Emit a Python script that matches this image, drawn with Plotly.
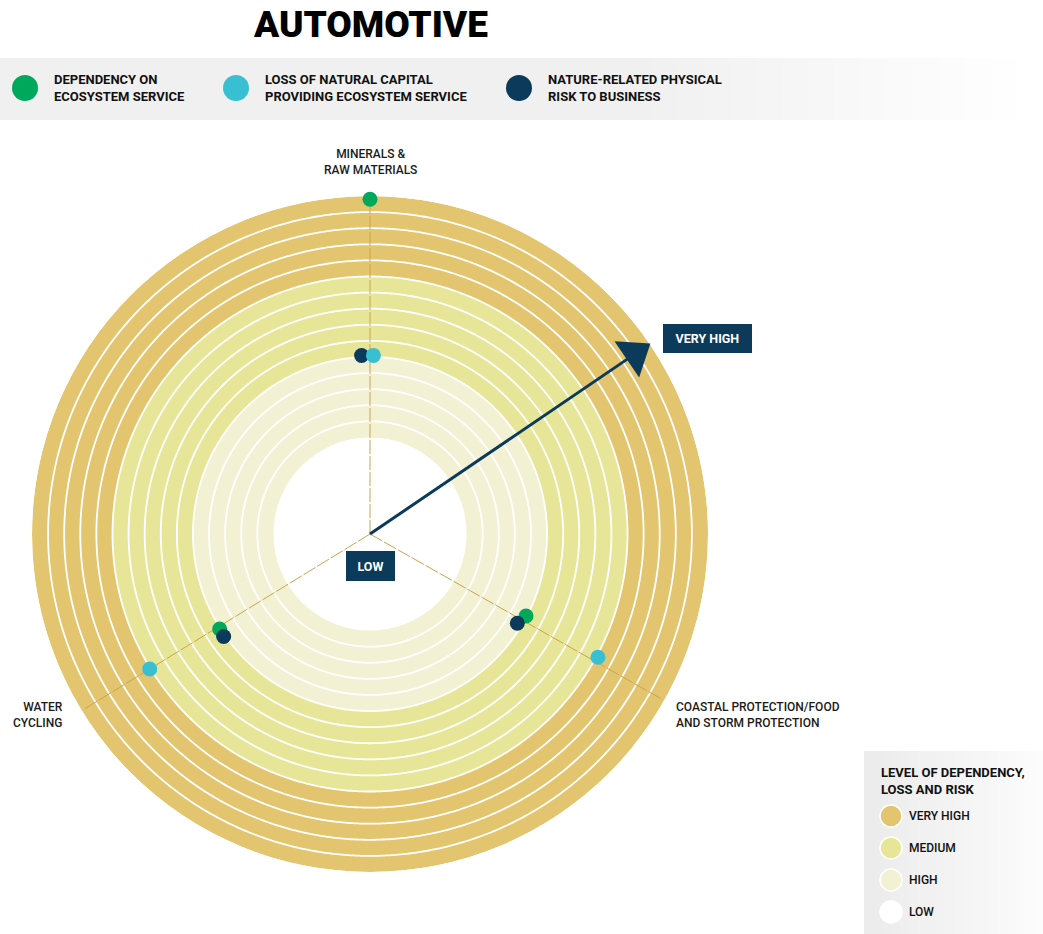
import numpy as np
import plotly.graph_objects as go

W, H = 1043, 934

# ring structure (radial units, 1 unit per ring)
CORE_RADIUS = 6
RING_LEVELS = ["HIGH"] * 5 + ["MEDIUM"] * 5 + ["VERY HIGH"] * 5
LEVEL_COLORS = {"VERY HIGH": "#e3c56f", "MEDIUM": "#e7e698", "HIGH": "#f3f1d3", "LOW": "#ffffff"}
LEGEND_LEVELS = ["VERY HIGH", "MEDIUM", "HIGH", "LOW"]

# categories (spokes)
CATEGORIES = ["MINERALS &<br>RAW MATERIALS", "COASTAL PROTECTION/FOOD<br>AND STORM PROTECTION", "WATER<br>CYCLING"]
CATEGORY_ANGLES = [90, 330.5, 211.5]

# series values (radius, angle)
DEPENDENCY_R = [20.8, 10.95, 11.05]
DEPENDENCY_T = [90, 332.3, 212.3]
LOSS_R = [11.1, 16.1, 16.05]
LOSS_T = [88.9, 331.6, 211.5]
RISK_R = [11.1, 10.7, 11.1]
RISK_T = [92.7, 328.8, 215.0]

SERIES = [
    ("DEPENDENCY ON<br>ECOSYSTEM SERVICE", "#00a85c", DEPENDENCY_R, DEPENDENCY_T),
    ("NATURE-RELATED PHYSICAL<br>RISK TO BUSINESS", "#0b3a5b", RISK_R, RISK_T),
    ("LOSS OF NATURAL CAPITAL<br>PROVIDING ECOSYSTEM SERVICE", "#38c0d2", LOSS_R, LOSS_T),
]
TOP_LEGEND_ORDER = [0, 2, 1]

ARROW_ANGLE = 34.2
NAVY = "#0b3a5b"
FONT = "Roboto"


def px(x):
    return x / W


def py(y):
    return 1 - y / H


def label(x, y, text, size=12, weight=500, color="#1a1a1a", xanchor="center", align="center", **kw):
    return dict(x=px(x), y=py(y), xref="paper", yref="paper", text=text, showarrow=False,
                xanchor=xanchor, yanchor="middle", align=align,
                font=dict(size=size, color=color, weight=weight), **kw)


# polar placement: centre (370, 534), radius 338 px
CX, CY, R = 370, 534, 338
R_MAX = CORE_RADIUS + len(RING_LEVELS)

fig = go.Figure()

fig.add_trace(go.Barpolar(
    r=[1] * len(RING_LEVELS),
    base=[CORE_RADIUS + i for i in range(len(RING_LEVELS))],
    theta=[0] * len(RING_LEVELS),
    width=[360] * len(RING_LEVELS),
    marker=dict(color=[LEVEL_COLORS[l] for l in RING_LEVELS], line=dict(width=0)),
    hoverinfo="skip", showlegend=False,
))

circle_t = np.linspace(0, 360, 721)
for i in range(1, len(RING_LEVELS)):
    fig.add_trace(go.Scatterpolar(
        r=[CORE_RADIUS + i] * len(circle_t), theta=circle_t, mode="lines",
        line=dict(color="white", width=1.8), hoverinfo="skip", showlegend=False,
    ))

for ang in CATEGORY_ANGLES:
    fig.add_trace(go.Scatterpolar(
        r=[0, R_MAX - 0.1], theta=[ang, ang], mode="lines",
        line=dict(color="#cda34c", width=1, dash="14px,2px"), hoverinfo="skip", showlegend=False,
    ))

for name, color, rr, tt in SERIES:
    fig.add_trace(go.Scatterpolar(
        r=rr, theta=tt, mode="markers", name=name.replace("<br>", " "),
        marker=dict(color=color, size=15), showlegend=False,
    ))

# arrow from LOW to VERY HIGH
tip_back = 18 / (R / R_MAX)
fig.add_trace(go.Scatterpolar(
    r=[0, R_MAX - tip_back], theta=[ARROW_ANGLE, ARROW_ANGLE], mode="lines+markers",
    line=dict(color=NAVY, width=3),
    marker=dict(color=NAVY, size=[10, 38], symbol=["circle", "triangle-up"], angleref="previous",
                opacity=1, line=dict(width=0)),
    hoverinfo="skip", showlegend=False,
))

fig.update_layout(
    width=W, height=H, margin=dict(l=0, r=0, t=0, b=0),
    paper_bgcolor="white", plot_bgcolor="white",
    font=dict(family=FONT, color="#1a1a1a"),
    polar=dict(
        domain=dict(x=[px(CX - R), px(CX + R)], y=[py(CY + R), py(CY - R)]),
        bgcolor="rgba(0,0,0,0)",
        radialaxis=dict(range=[0, R_MAX], visible=False, showgrid=False),
        angularaxis=dict(visible=False, showgrid=False, direction="counterclockwise", rotation=0),
    ),
)

shapes = []
annotations = []

# title
annotations.append(label(CX, 25, "AUTOMOTIVE", size=37, weight=900, color="black"))

# top legend band with fade to the right
n = 40
for i in range(n):
    x0 = i * W / n
    frac = i / (n - 1)
    g = 240 if frac < 0.6 else int(240 + (255 - 240) * (frac - 0.6) / 0.4)
    shapes.append(dict(type="rect", xref="paper", yref="paper", x0=px(x0), x1=px(x0 + W / n + 1),
                       y0=py(120), y1=py(58), fillcolor=f"rgb({g},{g},{g})", line=dict(width=0), layer="below"))

leg_x = [25, 236, 519]
for k, idx in enumerate(TOP_LEGEND_ORDER):
    name, color, _, _ = SERIES[idx]
    cx = leg_x[k]
    shapes.append(dict(type="circle", xref="paper", yref="paper", x0=px(cx - 13), x1=px(cx + 13),
                       y0=py(101), y1=py(75), fillcolor=color, line=dict(width=0)))
    annotations.append(label(cx + 27, 88, name, size=13, weight=700, color="#111",
                             xanchor="left", align="left"))

# category labels
annotations.append(label(CX, 162, CATEGORIES[0]))
annotations.append(label(674, 715, CATEGORIES[1], xanchor="left", align="left"))
annotations.append(label(65, 715, CATEGORIES[2], xanchor="right", align="right"))

# level tags
annotations.append(label(707, 338, "VERY HIGH", size=12.5, weight=700, color="white",
                         bgcolor=NAVY, bordercolor=NAVY, borderpad=6, width=75, height=15))
annotations.append(label(370, 566, "LOW", size=12.5, weight=700, color="white",
                         bgcolor=NAVY, bordercolor=NAVY, borderpad=6, width=35, height=16))

# level legend box (bottom right)
n = 20
bx0, bx1 = 864, W
for i in range(n):
    x0 = bx0 + i * (bx1 - bx0) / n
    frac = i / (n - 1)
    g = int(236 + (252 - 236) * frac)
    shapes.append(dict(type="rect", xref="paper", yref="paper", x0=px(x0), x1=px(x0 + (bx1 - bx0) / n + 1),
                       y0=py(934), y1=py(751), fillcolor=f"rgb({g},{g},{g})", line=dict(width=0), layer="below"))
annotations.append(label(879, 781, "LEVEL OF DEPENDENCY,<br>LOSS AND RISK", size=13, weight=700,
                         color="#111", xanchor="left", align="left"))
for k, lvl in enumerate(LEGEND_LEVELS):
    yy = 816 + 32 * k
    shapes.append(dict(type="circle", xref="paper", yref="paper", x0=px(880), x1=px(902),
                       y0=py(yy + 11), y1=py(yy - 11), fillcolor=LEVEL_COLORS[lvl],
                       line=dict(color="white", width=1.5)))
    annotations.append(label(907, yy, lvl, color="#111", xanchor="left", align="left"))

fig.update_layout(shapes=shapes, annotations=annotations)

fig.write_html("out.html", config={"displayModeBar": False},
               post_script="document.body.style.margin='0';")
